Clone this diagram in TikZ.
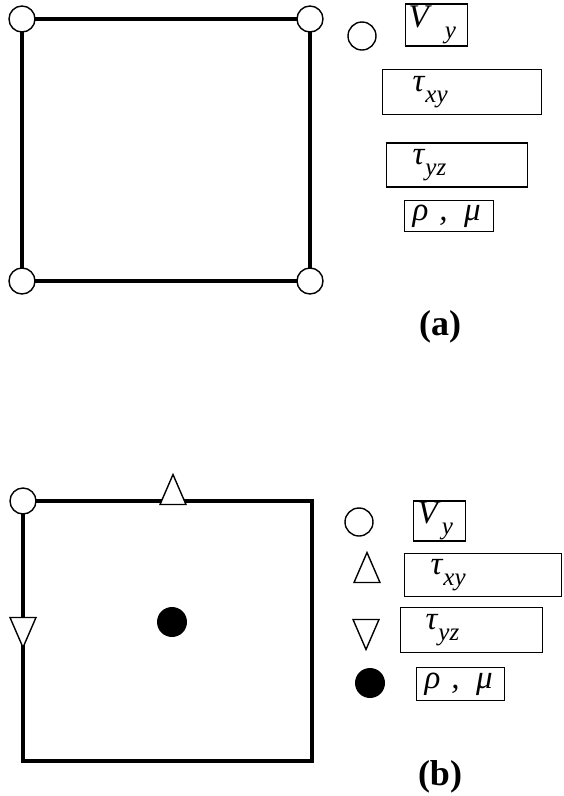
\documentclass[tikz,border=0pt]{standalone}
\usepackage{fontspec}
\setmainfont{Liberation Serif}
\usetikzlibrary{shapes.geometric}
% italic symbol with lowered italic subscript
\newcommand{\symsub}[3][0pt]{\textit{#2}\hspace{#1}\raisebox{-0.32em}{\fontsize{25}{25}\selectfont\itshape #3}}
\tikzset{
  every node/.style={font=\fontsize{33}{36}\selectfont},
  edge/.style={line width=3.4pt,draw=black},
  vnode/.style={circle,draw,line width=1.4pt,fill=white,minimum size=26pt,inner sep=0pt},
  pnode/.style={circle,fill=black,minimum size=30pt,inner sep=0pt},
  upnode/.style={isosceles triangle,isosceles triangle stretches,shape border rotate=90,draw,line width=1.4pt,fill=white,minimum width=26pt,minimum height=30pt,inner sep=0pt},
  dnnode/.style={upnode,shape border rotate=-90},
  keybox/.style={draw,line width=1.3pt,align=left,anchor=west,inner ysep=0pt},
  tag/.style={font=\fontsize{36}{40}\selectfont\bfseries},
}
\begin{document}
\begin{tikzpicture}[x=1pt,y=-1pt]
\useasboundingbox (0,0) rectangle (563,796);

% (a) element with corner nodes
\coordinate (a1) at (22,19);
\coordinate (a2) at (310,19);
\coordinate (a3) at (310,281);
\coordinate (a4) at (22,281);
\draw[edge] (a1) -- (a2) -- (a3) -- (a4) -- cycle;
\foreach \c in {a1,a2,a3,a4}
  \node[vnode] at (\c) {};

\node[vnode,minimum size=28pt] (va) at (362,36) {};
\node[keybox,minimum width=62pt,minimum height=42pt,inner xsep=3pt,text width=56pt] (vya) at (405,25) {\symsub[13pt]{V}{y}};
\node[keybox,minimum width=159pt,minimum height=45pt,inner xsep=30pt,text width=99pt] (txya) at (382,92) {\symsub{τ}{xy}};
\node[keybox,minimum width=141pt,minimum height=44pt,inner xsep=26pt,text width=89pt] (tyza) at (386,165) {\symsub{τ}{yz}};
\node[keybox,minimum width=89pt,minimum height=31pt,inner xsep=8pt,text width=73pt] (rmua) at (404,216) {\textit{ρ ,\, μ}};

\node[tag] (taga) at (440,327) {(a)};

% (b) staggered element
\coordinate (b1) at (23,501);
\coordinate (b2) at (312,501);
\coordinate (b3) at (312,761);
\coordinate (b4) at (23,761);
\draw[edge] (b1) -- (b2) -- (b3) -- (b4) -- cycle;
\node[vnode] (vb) at (b1) {};
\node[upnode] (txyb) at (173,496) {};
\node[dnnode] (tyzb) at (23,626) {};
\node[pnode] (rmub) at (172,622) {};

\node[vnode,minimum size=28pt] (vkey) at (359,522) {};
\node[upnode] (ukey) at (367,574) {};
\node[dnnode] (dkey) at (366,628) {};
\node[pnode] (pkey) at (370,683) {};

\node[keybox,minimum width=52pt,minimum height=40pt,inner xsep=4pt,text width=44pt] (vyb) at (413,521) {\symsub[1pt]{V}{y}};
\node[keybox,minimum width=157pt,minimum height=43pt,inner xsep=26pt,text width=105pt] (txyk) at (404,575) {\symsub{τ}{xy}};
\node[keybox,minimum width=142pt,minimum height=45pt,inner xsep=25pt,text width=92pt] (tyzk) at (400,630) {\symsub{τ}{yz}};
\node[keybox,minimum width=88pt,minimum height=33pt,inner xsep=8pt,text width=72pt] (rmuk) at (416,684) {\textit{ρ ,\, μ}};

\node[tag] (tagb) at (440,777) {(b)};

\end{tikzpicture}
\end{document}
